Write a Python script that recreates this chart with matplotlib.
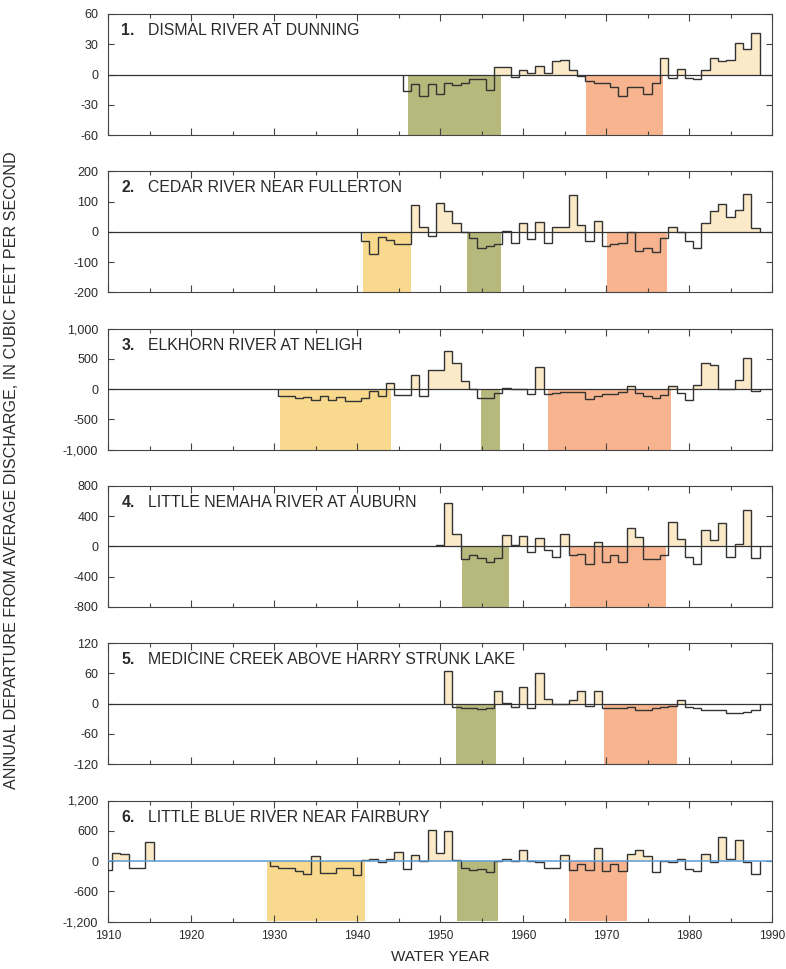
import numpy as np
import matplotlib.pyplot as plt
from matplotlib.ticker import MultipleLocator, FuncFormatter

plt.rcParams['font.family'] = ['Liberation Sans', 'DejaVu Sans']

stations = ['DISMAL RIVER AT DUNNING', 'CEDAR RIVER NEAR FULLERTON', 'ELKHORN RIVER AT NELIGH',
            'LITTLE NEMAHA RIVER AT AUBURN', 'MEDICINE CREEK ABOVE HARRY STRUNK LAKE',
            'LITTLE BLUE RIVER NEAR FAIRBURY']

# annual departure from average discharge, cubic feet per second
years_1 = list(range(1946, 1989))
dismal = [-16, -9.5, -21, -9.5, -19, -8, -10, -8, -4.5, -4, -15, 7, 7.5, -2, 4, 1, 8.5, 1, 13, 14,
          4.5, -1.5, -6, -8, -8.5, -12, -21, -12, -12, -19, -8, 16, -3, 5, -3.5, -4.5, 4, 16, 13, 14,
          31, 25, 41]

years_2 = list(range(1941, 1989))
cedar = [-30, -75, -18, -28, -40, -40, 88, 15, -15, 95, 70, 30, 0, -22, -55, -47, -40, 3, -37, 28,
         -24, 33, -37, 15, 15, 122, 23, -31, 36, -47, -40, -38, 0, -62, -55, -68, -20, 17, 0, -31,
         -53, 28, 69, 93, 50, 71, 125, 14]

years_3 = list(range(1931, 1989))
elkhorn = [-122, -122, -150, -135, -178, -122, -178, -135, -190, -190, -150, -28, -122, 100, -95,
           -95, 228, -122, 322, 322, 628, 434, 128, 0, -150, -150, -67, 17, 0, 0, -83, 361, -83,
           -60, -50, -50, -50, -167, -122, -83, -83, -50, 44, -67, -122, -139, -95, 44, -67, -178,
           72, 434, 406, 0, 0, 155, 506, -39]

years_4 = list(range(1950, 1989))
nemaha = [22, 572, 167, -163, -119, -154, -207, -154, 154, 13, 132, -75, 110, -53, -141, 167, -119,
          -97, -229, 57, -207, -119, -207, 246, 123, -163, -163, -119, 321, 101, -141, -238, 211,
          79, 308, -141, 35, 475, -154]

years_5 = list(range(1951, 1989))
medicine = [65, -6, -9, -9, -11, -8, 25, 1, -7, 33, -9, 61, 10, -1, 0, 8, 25, -5, 25, -9, -8, -9, -6,
            -12, -12, -8, -6, -5, 7, -7, -8, -12, -12, -13, -19, -19, -16, -12]

years_6a = list(range(1910, 1916))
blue_early = [-170, 150, 140, -130, -130, 380]
years_6b = list(range(1930, 1989))
blue = [-100, -147, -133, -200, -267, 100, -233, -233, -147, -147, -280, 13, 33, -20, 33, 180, -167,
        113, 0, 613, 167, 587, 13, -147, -187, -167, -220, 0, 33, 0, 213, 0, -13, -133, -133, 120,
        -187, -67, -187, 267, -200, -53, -200, 133, 220, 100, -220, 0, -13, 47, -153, -200, 133,
        -20, 467, 33, 413, -20, -253]

# dry periods shaded below the zero line (start year, end year, kind)
dry_1 = [(1946.1, 1957.3, 'mid'), (1967.6, 1976.9, 'late')]
dry_2 = [(1940.7, 1946.5, 'early'), (1953.3, 1957.3, 'mid'), (1970.1, 1977.4, 'late')]
dry_3 = [(1930.7, 1944.1, 'early'), (1954.9, 1957.2, 'mid'), (1963.0, 1977.8, 'late')]
dry_4 = [(1952.7, 1958.3, 'mid'), (1965.7, 1977.2, 'late')]
dry_5 = [(1951.9, 1956.8, 'mid'), (1969.8, 1978.5, 'late')]
dry_6 = [(1929.2, 1941.0, 'early'), (1952.1, 1957.0, 'mid'), (1965.6, 1972.5, 'late')]

y_max = [60, 200, 1000, 800, 120, 1200]
y_step = [30, 100, 500, 400, 60, 600]


def main():
    records = [[(years_1, dismal)], [(years_2, cedar)], [(years_3, elkhorn)],
               [(years_4, nemaha)], [(years_5, medicine)], [(years_6a, blue_early), (years_6b, blue)]]
    dry = [dry_1, dry_2, dry_3, dry_4, dry_5, dry_6]
    dry_colors = {'early': '#f8d98e', 'mid': '#b7b87c', 'late': '#f7b48e'}
    wet_color = '#fbe9c8'
    line_color = '#333333'
    text_color = '#2a2a2a'

    fig = plt.figure(figsize=(7.86, 9.69), dpi=100)
    W, H = 786.0, 969.0
    left, right = 108.0, 772.0

    for i in range(6):
        top = 14 + i * 157.3
        ax = fig.add_axes([left / W, 1 - (top + 121) / H, (right - left) / W, 121 / H])
        ym = y_max[i]

        for a, b, kind in dry[i]:
            ax.fill_between([a, b], -ym, 0, color=dry_colors[kind], lw=0, zorder=1)

        for yrs, vals in records[i]:
            yrs = np.array(yrs)
            vals = np.array(vals, dtype=float)
            edges = np.append(yrs, yrs[-1] + 1) - 0.5  # steps centred on the water year
            ax.stairs(np.clip(vals, 0, None), edges, baseline=0, fill=True, color=wet_color, lw=0, zorder=2)
            ax.stairs(vals, edges, baseline=0, color=line_color, lw=1.0, zorder=3)

        if i == 5:
            ax.axhline(0, color='#5b9bd5', lw=1.1, zorder=4)
        else:
            ax.axhline(0, color='#333333', lw=0.9, zorder=4)

        ax.set_xlim(1910, 1990)
        ax.set_ylim(-ym, ym)
        ax.set_yticks(np.arange(-ym, ym + 1, y_step[i]))
        ax.yaxis.set_major_formatter(FuncFormatter(lambda v, p: f'{int(v):,}'))
        ax.xaxis.set_major_locator(MultipleLocator(10))
        ax.xaxis.set_minor_locator(MultipleLocator(5))
        ax.tick_params(axis='x', which='major', direction='in', top=True, bottom=True, length=5,
                       width=0.8, color='#444444', labelsize=8.5, labelcolor=text_color, pad=6)
        ax.tick_params(axis='x', which='minor', direction='in', top=True, bottom=True, length=3,
                       width=0.8, color='#444444')
        ax.tick_params(axis='y', direction='in', left=True, right=True, length=4, width=0.8,
                       color='#444444', labelsize=9, labelcolor=text_color, pad=7)
        if i < 5:
            ax.tick_params(axis='x', labelbottom=False)
        for s in ax.spines.values():
            s.set_color('#444444')
            s.set_linewidth(0.8)

        ax.text(0.02, 0.862, f'{i + 1}.', transform=ax.transAxes, fontsize=11.4, fontweight='bold',
                va='center', color=text_color)
        ax.text(0.06, 0.862, stations[i], transform=ax.transAxes, fontsize=11.4, va='center',
                color=text_color)

    fig.text(12 / W, 1 - 470 / H, 'ANNUAL DEPARTURE FROM AVERAGE DISCHARGE, IN CUBIC FEET PER SECOND',
             rotation=90, ha='center', va='center', fontsize=11.6, color=text_color)
    fig.text(440 / W, 1 - 957 / H, 'WATER YEAR', ha='center', va='center', fontsize=11, color=text_color)

    fig.savefig('out.png', dpi=100)


if __name__ == '__main__':
    main()
